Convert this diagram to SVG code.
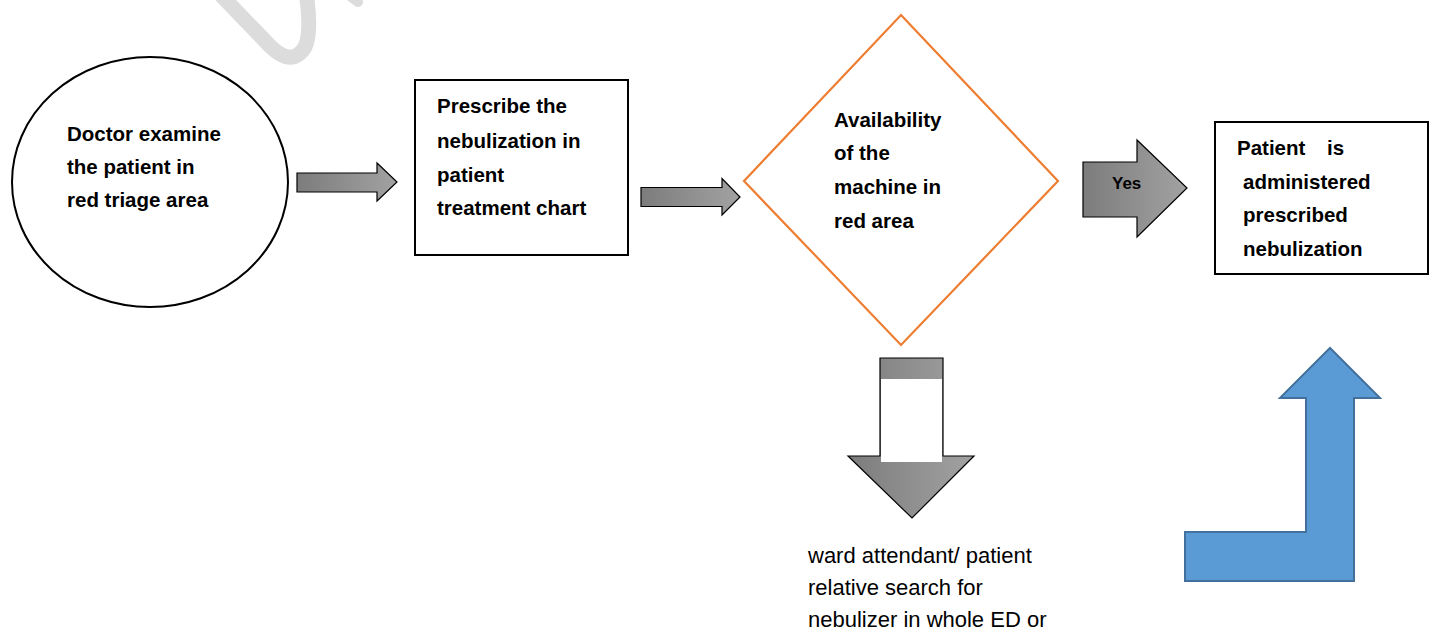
<svg xmlns="http://www.w3.org/2000/svg" width="1434" height="636" viewBox="0 0 1434 636">
<defs>
<linearGradient id="g" x1="0" y1="0" x2="1" y2="0">
<stop offset="0" stop-color="#7c7c7c"/>
<stop offset="1" stop-color="#a2a2a2"/>
</linearGradient>
<style>
.b{font-family:"Liberation Sans",Arial,sans-serif;font-weight:bold;font-size:20.5px;fill:#000}
.r{font-family:"Liberation Sans",Arial,sans-serif;font-size:22px;fill:#000}
.y{font-family:"Liberation Sans",Arial,sans-serif;font-weight:bold;font-size:17px;fill:#000}
.box{fill:#fff;stroke:#000;stroke-width:2}
.ga{fill:url(#g);stroke:#000;stroke-width:1.2;stroke-linejoin:miter}
</style>
</defs>
<rect width="1434" height="636" fill="#fff"/>
<g id="watermark" fill="none" stroke="#dcdcdc" stroke-linecap="round">
<path d="M 218,-8 L 270,46 Q 292,68 305,47 Q 312,32 306,-8" stroke-width="15"/>
<path d="M 350,-4 L 358,2" stroke-width="10"/>
</g>
<g id="n1">
<ellipse cx="150" cy="182" rx="138" ry="125" class="box"/>
<text class="b"><tspan x="67" y="141">Doctor examine</tspan><tspan x="67" y="174">the patient in</tspan><tspan x="67" y="207">red triage area</tspan></text>
</g>
<g id="n2">
<rect x="415" y="80" width="213" height="175" class="box"/>
<text class="b"><tspan x="437" y="113">Prescribe the</tspan><tspan x="437" y="148">nebulization in</tspan><tspan x="437" y="182">patient</tspan><tspan x="437" y="215">treatment chart</tspan></text>
</g>
<g id="n3">
<polygon points="901,15 1058,181 901,345 744,181" fill="#fff" stroke="#ed7d31" stroke-width="2.2"/>
<text class="b"><tspan x="834" y="127">Availability</tspan><tspan x="834" y="160">of the</tspan><tspan x="834" y="194">machine in</tspan><tspan x="834" y="228">red area</tspan></text>
</g>
<g id="n4">
<rect x="1215" y="122" width="213" height="152" class="box"/>
<text class="b"><tspan x="1237" y="155">Patient</tspan><tspan x="1327" y="155">is</tspan><tspan x="1243" y="189">administered</tspan><tspan x="1243" y="222">prescribed</tspan><tspan x="1243" y="256">nebulization</tspan></text>
</g>
<g id="n5">
<text class="r"><tspan x="808" y="563">ward attendant/ patient</tspan><tspan x="808" y="595">relative search for</tspan><tspan x="808" y="627">nebulizer in whole ED or</tspan></text>
</g>
<g id="connectors">
<polygon class="ga" points="297,173 377,173 377,163 397,182 377,201 377,192 297,192"/>
<polygon class="ga" points="641,187.5 722,187.5 722,178.5 740,197 722,215 722,206.5 641,206.5"/>
<polygon class="ga" points="1083,162 1137,162 1137,140 1187,188 1137,237 1137,217 1083,217"/>
<text class="y" x="1112" y="189">Yes</text>
<polygon class="ga" points="880,358 943,358 943,456 974,456 912,518 848,456 880,456"/>
<rect x="881" y="379" width="61" height="83" fill="#fff"/>
<polygon points="1185,532 1306,532 1306,398 1280,398 1330,348 1380,398 1354,398 1354,581 1185,581" fill="#5b9bd5" stroke="#41719c" stroke-width="2"/>
</g>
</svg>
